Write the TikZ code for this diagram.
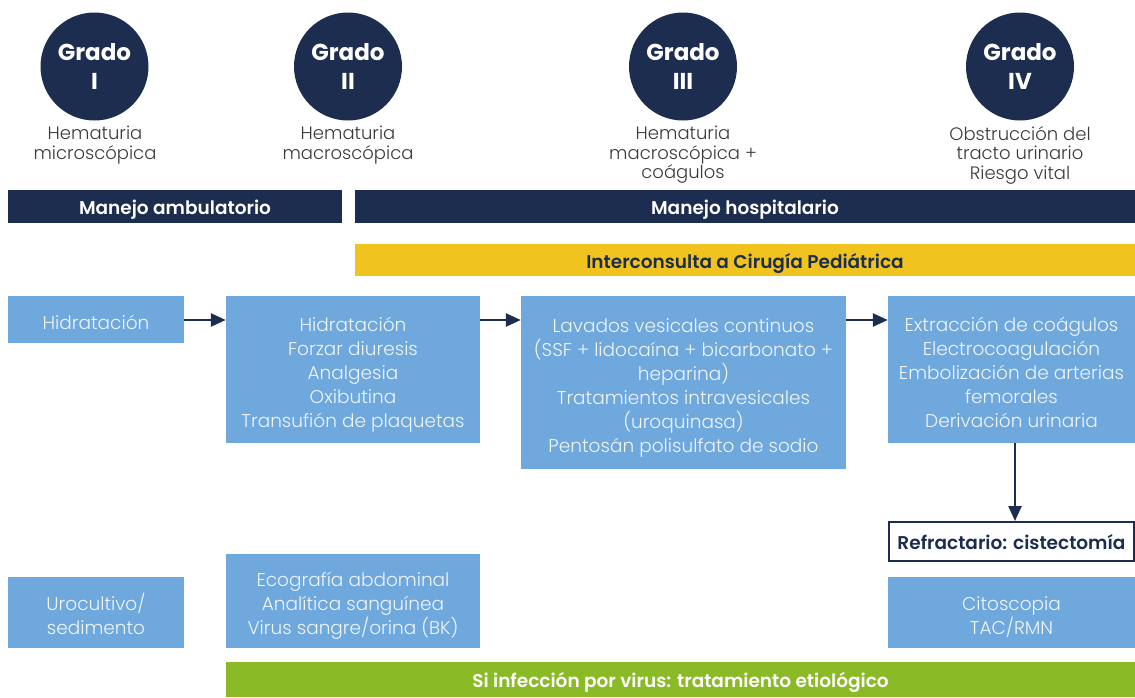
\documentclass[tikz,border=0pt]{standalone}
\usepackage{fontspec}
\setmainfont{Poppins}[UprightFont=* Light, BoldFont=* SemiBold]
\newfontfamily\heavy{Poppins}[UprightFont=* Bold]
\usetikzlibrary{arrows.meta}
\definecolor{navy}{HTML}{1C2D4F}
\definecolor{lblue}{HTML}{6FA8DC}
\definecolor{ybar}{HTML}{F0C31E}
\definecolor{gbar}{HTML}{8ABB27}
\definecolor{txtg}{HTML}{3A3A3A}
\definecolor{boxtxt}{HTML}{EEF4FB}
\tikzset{
  grado/.style={circle, fill=navy, minimum size=108pt, inner sep=0pt, text=white, align=center, font=\heavy\fontsize{23}{29}\selectfont},
  sub/.style={align=center, text=txtg, font=\fontsize{18}{19.5}\selectfont},
  hb/.style={inner sep=0pt, text height=1.88em, text depth=0.22em, font=\bfseries\fontsize{18.5}{20}\selectfont},
  bar/.style={hb, fill=navy, text=white},
  ybarst/.style={hb, fill=ybar, text=navy},
  gbarst/.style={hb, fill=gbar, text=white},
  lbox/.style={fill=lblue, inner sep=0pt},
  btxt/.style={text=boxtxt, inner sep=0pt, align=center, font=\fontsize{18.5}{24}\selectfont},
  arr/.style={draw=navy, line width=2.5pt, -{Triangle[length=15pt,width=13pt]}}
}
\begin{document}
\begin{tikzpicture}[x=1pt,y=-1pt]
\useasboundingbox (0,0) rectangle (1135,697);
% circles
\node[grado] (g1) at (94.5,66.5) {Grado\\I};
\node[grado] (g2) at (348,66.5) {Grado\\II};
\node[grado] (g3) at (683,66.5) {Grado\\III};
\node[grado] (g4) at (1020,66.5) {Grado\\IV};
\node[sub] (s1) at (95,145) {Hematuria\\microscópica};
\node[sub] (s2) at (348,145) {Hematuria\\macroscópica};
\node[sub] (s3) at (683,155) {Hematuria\\macroscópica +\\coágulos};
\node[sub] (s4) at (1020,155) {Obstrucción del\\tracto urinario\\Riesgo vital};
% bars
\node[bar, minimum width=334pt, minimum height=33pt] (amb) at (175,206.5) {Manejo ambulatorio};
\node[bar, minimum width=780pt, minimum height=33pt] (hosp) at (745,206.5) {Manejo hospitalario};
\node[ybarst, minimum width=780pt, minimum height=32pt] (inter) at (745,260) {Interconsulta a Cirugía Pediátrica};
% boxes
\node[lbox, minimum width=176pt, minimum height=47pt] (b1) at (96,319.5) {};
\node[btxt] (t1) at ([yshift=-3pt]b1.center) {Hidratación};
\node[lbox, minimum width=254pt, minimum height=147pt] (b2) at (353,369.5) {};
\node[btxt] (t2) at ([yshift=-5pt]b2.center) {Hidratación\\Forzar diuresis\\Analgesia\\Oxibutina\\Transufión de plaquetas};
\node[lbox, minimum width=325pt, minimum height=173pt] (b3) at (683.5,382.5) {};
\node[btxt] (t3) at ([yshift=-5pt]b3.center) {Lavados vesicales continuos\\(SSF + lidocaína + bicarbonato +\\heparina)\\Tratamientos intravesicales\\(uroquinasa)\\Pentosán polisulfato de sodio};
\node[lbox, minimum width=247pt, minimum height=147pt] (b4) at (1011.5,369.5) {};
\node[btxt] (t4) at ([yshift=-3pt]b4.center) {Extracción de coágulos\\Electrocoagulación\\Embolización de arterias\\femorales\\Derivación urinaria};
\node[hb, draw=navy, line width=2pt, fill=white, text=navy, minimum width=245pt, minimum height=39pt] (refr) at (1011.5,541.5) {Refractario: cistectomía};
\node[lbox, minimum width=176pt, minimum height=71pt] (uro) at (96,612.5) {};
\node[btxt] (t5) at ([yshift=-1pt]uro.center) {Urocultivo/\\sedimento};
\node[lbox, minimum width=254pt, minimum height=94pt] (eco) at (353,601) {};
\node[btxt] (t6) at ([yshift=-5pt]eco.center) {Ecografía abdominal\\Analítica sanguínea\\Virus sangre/orina (BK)};
\node[lbox, minimum width=247pt, minimum height=71pt] (cito) at (1011.5,612.5) {};
\node[btxt] (t7) at ([yshift=-5pt]cito.center) {Citoscopia\\TAC/RMN};
\node[gbarst, minimum width=909pt, minimum height=35pt] (virus) at (680.5,679.5) {Si infección por virus: tratamiento etiológico};
% arrows
\draw[arr] (b1.east |- 0,320) -- (b2.west |- 0,320);
\draw[arr] (b2.east |- 0,320) -- (b3.west |- 0,320);
\draw[arr] (b3.east |- 0,320) -- (b4.west |- 0,320);
\draw[arr] (b4.south -| 1015,0) -- (refr.north -| 1015,0);
\end{tikzpicture}
\end{document}
